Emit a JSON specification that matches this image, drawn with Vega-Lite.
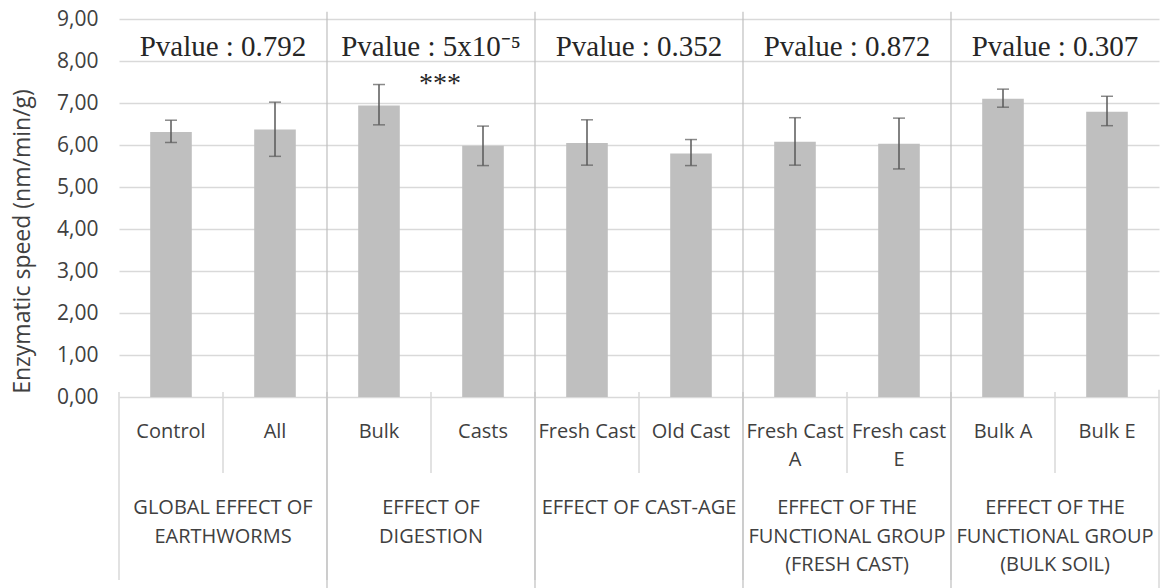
{
  "$schema": "https://vega.github.io/schema/vega-lite/v6.json",
  "width": 1040,
  "height": 378,
  "autosize": {"type": "none"},
  "padding": {"left": 119, "top": 19, "right": 2, "bottom": 191},
  "background": "white",
  "config": {"view": {"stroke": null}, "font": "Open Sans"},
  "data": {
    "values": [
      {"cat": "Control", "pos": 1, "group": "GLOBAL EFFECT OF|EARTHWORMS", "value": 6.31, "lo": 6.06, "hi": 6.59, "pvalue": "Pvalue : 0.792"},
      {"cat": "All", "pos": 2, "group": "GLOBAL EFFECT OF|EARTHWORMS", "value": 6.37, "lo": 5.73, "hi": 7.02, "pvalue": "Pvalue : 0.792"},
      {"cat": "Bulk", "pos": 1, "group": "EFFECT OF|DIGESTION", "value": 6.94, "lo": 6.48, "hi": 7.44, "pvalue": "Pvalue : 5x10⁻⁵"},
      {"cat": "Casts", "pos": 2, "group": "EFFECT OF|DIGESTION", "value": 5.98, "lo": 5.51, "hi": 6.45, "pvalue": "Pvalue : 5x10⁻⁵", "sig": "***"},
      {"cat": "Fresh Cast", "pos": 1, "group": "EFFECT OF CAST-AGE", "value": 6.05, "lo": 5.52, "hi": 6.6, "pvalue": "Pvalue : 0.352"},
      {"cat": "Old Cast", "pos": 2, "group": "EFFECT OF CAST-AGE", "value": 5.8, "lo": 5.51, "hi": 6.13, "pvalue": "Pvalue : 0.352"},
      {"cat": "Fresh Cast|A", "pos": 1, "group": "EFFECT OF THE|FUNCTIONAL GROUP|(FRESH CAST)", "value": 6.08, "lo": 5.52, "hi": 6.65, "pvalue": "Pvalue : 0.872"},
      {"cat": "Fresh cast|E", "pos": 2, "group": "EFFECT OF THE|FUNCTIONAL GROUP|(FRESH CAST)", "value": 6.03, "lo": 5.43, "hi": 6.64, "pvalue": "Pvalue : 0.872"},
      {"cat": "Bulk A", "pos": 1, "group": "EFFECT OF THE|FUNCTIONAL GROUP|(BULK SOIL)", "value": 7.1, "lo": 6.9, "hi": 7.33, "pvalue": "Pvalue : 0.307"},
      {"cat": "Bulk E", "pos": 2, "group": "EFFECT OF THE|FUNCTIONAL GROUP|(BULK SOIL)", "value": 6.79, "lo": 6.46, "hi": 7.16, "pvalue": "Pvalue : 0.307"}
    ]
  },
  "layer": [
    {
      "mark": {"type": "bar", "width": {"band": 0.4}, "color": "#bfbfbf"},
      "encoding": {
        "x": {
          "field": "cat", "type": "nominal", "sort": null,
          "scale": {"domain": ["Control", "All", "Bulk", "Casts", "Fresh Cast", "Old Cast", "Fresh Cast|A", "Fresh cast|E", "Bulk A", "Bulk E"], "paddingInner": 0, "paddingOuter": 0},
          "axis": {
            "title": null, "domain": false, "ticks": false, "labelAngle": 0,
            "labelPadding": 24, "labelFontSize": 20, "labelFont": "Open Sans",
            "labelColor": "#404040", "labelBaseline": "top", "labelLineHeight": 28,
            "labelExpr": "split(datum.label, '|')", "labelOverlap": false, "labelFlush": false, "labelLimit": 0
          }
        },
        "y": {
          "field": "value", "type": "quantitative",
          "scale": {"domain": [0, 9], "nice": false},
          "axis": {
            "values": [0, 1, 2, 3, 4, 5, 6, 7, 8, 9],
            "title": "Enzymatic speed (nm/min/g)",
            "grid": true, "gridColor": "#d9d9d9", "gridWidth": 1.5,
            "domain": false, "ticks": false,
            "labelExpr": "replace(format(datum.value, '.2f'), '.', ',')",
            "labelPadding": 21, "labelFontSize": 21, "labelFont": "Open Sans", "labelColor": "#404040",
            "titleFontSize": 23, "titleFont": "Open Sans", "titleFontWeight": "normal", "titleColor": "#404040",
            "titleX": -97, "titleY": 222, "titleAlign": "center", "titleBaseline": "middle", "titleAngle": -90
          }
        }
      }
    },
    {
      "mark": {"type": "rule", "color": "#595959", "strokeWidth": 1.5},
      "encoding": {
        "x": {"field": "cat", "type": "nominal", "sort": null},
        "y": {"field": "lo", "type": "quantitative"},
        "y2": {"field": "hi"}
      }
    },
    {
      "mark": {"type": "tick", "orient": "horizontal", "size": 12, "thickness": 1.5, "color": "#595959"},
      "encoding": {
        "x": {"field": "cat", "type": "nominal", "sort": null},
        "y": {"field": "hi", "type": "quantitative"}
      }
    },
    {
      "mark": {"type": "tick", "orient": "horizontal", "size": 12, "thickness": 1.5, "color": "#595959"},
      "encoding": {
        "x": {"field": "cat", "type": "nominal", "sort": null},
        "y": {"field": "lo", "type": "quantitative"}
      }
    },
    {
      "transform": [{"filter": "datum.pos == 1"}],
      "mark": {"type": "rule", "color": "#d9d9d9", "strokeWidth": 1.5},
      "encoding": {
        "x": {"field": "cat", "type": "nominal", "sort": null, "bandPosition": 0},
        "y": {"datum": 0.12, "type": "quantitative"},
        "y2": {"datum": -4.36}
      }
    },
    {
      "transform": [{"filter": "datum.pos == 2"}],
      "mark": {"type": "rule", "color": "#d9d9d9", "strokeWidth": 1.5},
      "encoding": {
        "x": {"field": "cat", "type": "nominal", "sort": null, "bandPosition": 0},
        "y": {"datum": 0.12, "type": "quantitative"},
        "y2": {"datum": -1.81}
      }
    },
    {
      "transform": [{"filter": "datum.cat == 'Bulk E'"}],
      "mark": {"type": "rule", "color": "#d9d9d9", "strokeWidth": 1.5},
      "encoding": {
        "x": {"field": "cat", "type": "nominal", "sort": null, "bandPosition": 1},
        "y": {"datum": 0.17, "type": "quantitative"},
        "y2": {"datum": -4.7}
      }
    },
    {
      "transform": [{"filter": "datum.pos == 1 && datum.cat != 'Control'"}],
      "mark": {"type": "rule", "color": "#bfbfbf", "strokeWidth": 1.2},
      "encoding": {
        "x": {"field": "cat", "type": "nominal", "sort": null, "bandPosition": 0},
        "y": {"datum": 9.17, "type": "quantitative"},
        "y2": {"datum": -4.7}
      }
    },
    {
      "transform": [{"filter": "datum.pos == 2"}],
      "mark": {"type": "text", "fontSize": 20, "font": "Open Sans", "color": "#404040", "lineBreak": "|", "lineHeight": 28.5, "baseline": "alphabetic", "align": "center"},
      "encoding": {
        "x": {"field": "cat", "type": "nominal", "sort": null, "bandPosition": 0},
        "y": {"datum": -2.79, "type": "quantitative"},
        "text": {"field": "group"}
      }
    },
    {
      "transform": [{"filter": "datum.pos == 2"}],
      "mark": {"type": "text", "fontSize": 29, "font": "Liberation Serif", "color": "#262626", "baseline": "alphabetic", "align": "center"},
      "encoding": {
        "x": {"field": "cat", "type": "nominal", "sort": null, "bandPosition": 0},
        "y": {"datum": 8.12, "type": "quantitative"},
        "text": {"field": "pvalue"}
      }
    },
    {
      "transform": [{"filter": "datum.sig"}],
      "mark": {"type": "text", "fontSize": 28, "font": "Liberation Serif", "color": "#262626", "baseline": "alphabetic", "align": "center", "dx": 9},
      "encoding": {
        "x": {"field": "cat", "type": "nominal", "sort": null, "bandPosition": 0},
        "y": {"datum": 7.27, "type": "quantitative"},
        "text": {"field": "sig"}
      }
    }
  ]
}
